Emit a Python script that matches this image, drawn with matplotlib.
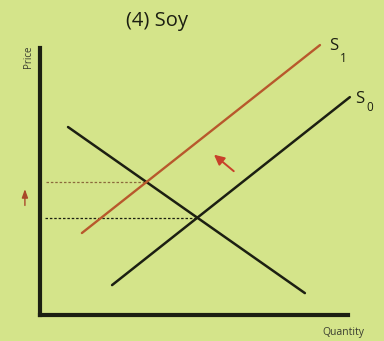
import matplotlib
matplotlib.use("Agg")
import matplotlib.pyplot as plt
import numpy as np

# Supply / demand curves (quantity, price) in arbitrary units
demand_q = [0.91, 8.60]
demand_p = [7.04, 0.82]
supply0_q = [2.34, 10.06]
supply0_p = [1.12, 8.16]
supply1_q = [1.36, 9.09]
supply1_p = [3.07, 10.11]

BG = "#d4e48a"
INK = "#1c1f12"
RED = "#b8582c"


def intersect(q1, p1, q2, p2):
    m1 = (p1[1] - p1[0]) / (q1[1] - q1[0])
    m2 = (p2[1] - p2[0]) / (q2[1] - q2[0])
    b1 = p1[0] - m1 * q1[0]
    b2 = p2[0] - m2 * q2[0]
    q = (b2 - b1) / (m1 - m2)
    return q, m1 * q + b1


fig = plt.figure(figsize=(3.84, 3.41), dpi=100)
fig.patch.set_facecolor(BG)
ax = fig.add_axes([40 / 384, 26 / 341, 308 / 384, 267 / 341])
ax.set_facecolor(BG)
ax.set_xlim(0, 10)
ax.set_ylim(0, 10)
for s in ("top", "right"):
    ax.spines[s].set_visible(False)
for s in ("left", "bottom"):
    ax.spines[s].set_linewidth(3.0)
    ax.spines[s].set_color(INK)
ax.set_xticks([])
ax.set_yticks([])

# equilibrium guides
q0, p0 = intersect(demand_q, demand_p, supply0_q, supply0_p)
q1, p1 = intersect(demand_q, demand_p, supply1_q, supply1_p)
ax.plot([0.2, q1], [p1, p1], ls=(0, (2, 1.5)), lw=0.9, color="#8c6a3c")
ax.plot([0.15, q0], [p0, p0], ls=(0, (2, 1.5)), lw=0.9, color=INK)

ax.plot(demand_q, demand_p, color=INK, lw=1.8, solid_capstyle="round", clip_on=False)
ax.plot(supply0_q, supply0_p, color=INK, lw=1.8, solid_capstyle="round", clip_on=False)
ax.plot(supply1_q, supply1_p, color=RED, lw=1.7, solid_capstyle="round", clip_on=False)

# shift arrows
ax.annotate("", xy=(5.58, 6.07), xytext=(6.36, 5.32),
            arrowprops=dict(arrowstyle="-|>,head_length=0.6,head_width=0.3",
                            color="#c8402a", lw=1.4), annotation_clip=False)
ax.annotate("", xy=(-0.49, 4.82), xytext=(-0.49, 4.0),
            arrowprops=dict(arrowstyle="-|>,head_length=0.5,head_width=0.18",
                            color="#a8482a", lw=1.0), annotation_clip=False)

font = "Open Sans"
fig.text(157 / 384, 1 - 21 / 341, "(4) Soy", ha="center", va="center",
         fontsize=14.5, family=font, color=INK)
fig.text(29 / 384, 1 - 57 / 341, "Price", ha="center", va="center",
         rotation=90, fontsize=7, family=font, color="#3a3d30")
fig.text(343 / 384, 1 - 332 / 341, "Quantity", ha="center", va="center",
         fontsize=7.5, family=font, color="#3a3d30")

fig.text(334 / 384, 1 - 46 / 341, "S", ha="center", va="center",
         fontsize=12, family=font, color=INK)
fig.text(343 / 384, 1 - 58 / 341, "1", ha="center", va="center",
         fontsize=8.5, family=font, color=INK)
fig.text(360 / 384, 1 - 99 / 341, "S", ha="center", va="center",
         fontsize=12, family=font, color=INK)
fig.text(370 / 384, 1 - 108 / 341, "0", ha="center", va="center",
         fontsize=8.5, family=font, color=INK)

fig.savefig("out.png", dpi=100, facecolor=BG)
